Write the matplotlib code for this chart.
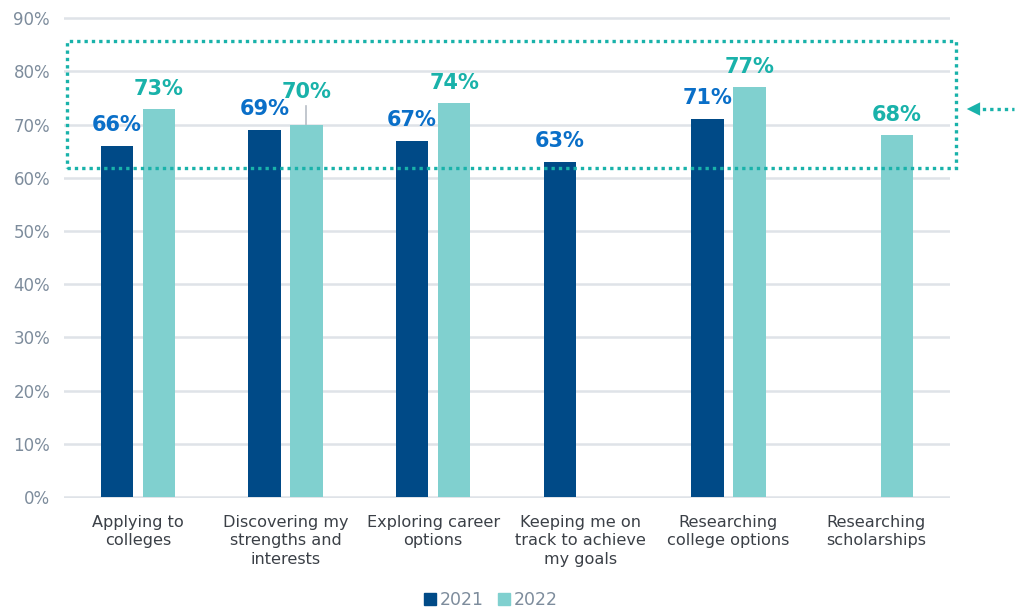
import numpy as np
import matplotlib
matplotlib.use("Agg")
import matplotlib.pyplot as plt
from matplotlib.patches import Rectangle, Patch

categories = ["Applying to\ncolleges", "Discovering my\nstrengths and\ninterests",
              "Exploring career\noptions", "Keeping me on\ntrack to achieve\nmy goals",
              "Researching\ncollege options", "Researching\nscholarships"]
years = ["2021", "2022"]
vals_2021 = [66, 69, 67, 63, 71, np.nan]
vals_2022 = [73, 70, 74, np.nan, 77, 68]

dark_blue = "#004a87"
light_teal = "#80d0cf"
label_blue = "#0a6fc8"
label_teal = "#19b2aa"
grid_grey = "#dfe3e8"
tick_grey = "#7d8c9c"
text_dark = "#3b4047"

plt.rcParams['font.family'] = ['DejaVu Sans']

fig = plt.figure(figsize=(10.16, 6.09), dpi=100)
ax = fig.add_axes([0.063, 0.182, 0.872, 0.79])

x = np.arange(len(categories)) + 0.5
width = 0.22
offset = 0.142

ax.bar(x - offset, vals_2021, width, color=dark_blue, zorder=3)
ax.bar(x + offset, vals_2022, width, color=light_teal, zorder=3)

for xi, v in zip(x - offset, vals_2021):
    if np.isnan(v):
        continue
    ax.text(xi, v + 2.8, f"{v:.0f}%", ha='center', va='baseline',
            fontsize=15, fontweight='bold', color=label_blue, zorder=4)

for i, (xi, v) in enumerate(zip(x + offset, vals_2022)):
    if np.isnan(v):
        continue
    lift = 2.6
    if i == 1:
        # label pushed up, with a leader line back to the bar
        lift = 4.9
        ax.plot([xi, xi], [v, v + 3.4], color="#b8bec6", lw=1.2, zorder=2)
    ax.text(xi, v + lift, f"{v:.0f}%", ha='center', va='baseline',
            fontsize=15, fontweight='bold', color=label_teal, zorder=4)

ax.set_xlim(0, len(categories))
ax.set_ylim(-0.2, 90.2)
ax.set_yticks(np.arange(0, 91, 10))
ax.set_yticklabels([f"{t}%" for t in range(0, 91, 10)])
ax.yaxis.grid(True, color=grid_grey, lw=1.8, zorder=0)
ax.set_axisbelow(True)
ax.tick_params(axis='y', length=0, pad=10, labelsize=12, labelcolor=tick_grey)
ax.set_xticks(x)
ax.set_xticklabels(categories, fontsize=11.6, color=text_dark, linespacing=1.3)
ax.tick_params(axis='x', length=0, pad=12)
for s in ax.spines.values():
    s.set_visible(False)

# dotted highlight box around the top band, with pointer arrow
box = Rectangle((67 / 1016, 1 - 168 / 609), (956 - 67) / 1016, (168 - 41) / 609,
                transform=fig.transFigure, fill=False, edgecolor=label_teal,
                lw=2.4, linestyle=(0, (1, 1.2)), zorder=5)
fig.patches.append(box)
fig.lines.append(plt.Line2D([975 / 1016, 1014 / 1016], [1 - 109 / 609] * 2,
                            transform=fig.transFigure, color=label_teal,
                            lw=2.4, linestyle=(0, (1, 1.2))))
ax.annotate("", xy=(964 / 1016, 1 - 109 / 609), xycoords='figure fraction',
            xytext=(978 / 1016, 1 - 109 / 609), textcoords='figure fraction',
            arrowprops=dict(arrowstyle='-|>,head_length=0.8,head_width=0.4',
                            color=label_teal, lw=0, mutation_scale=12))

handles = [Patch(color=dark_blue), Patch(color=light_teal)]
fig.legend(handles, years, loc='lower center', bbox_to_anchor=(0.483, -0.026),
           ncol=2, frameon=False, fontsize=12.5, labelcolor=tick_grey,
           handlelength=0.7, handleheight=0.7, handletextpad=0.2,
           columnspacing=0.8)

fig.savefig("out.png", dpi=100)
